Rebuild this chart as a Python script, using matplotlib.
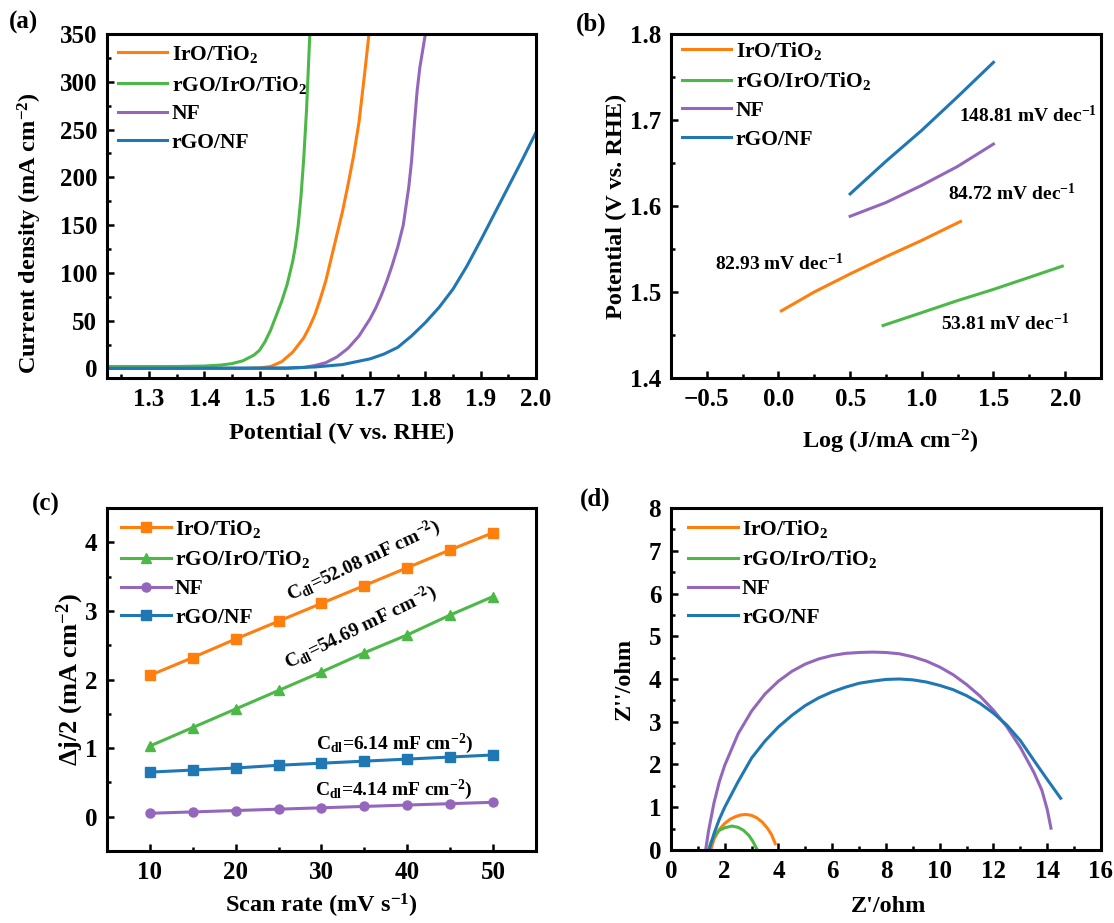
import numpy as np
import matplotlib
matplotlib.use('Agg')
import matplotlib.pyplot as plt
from matplotlib.ticker import MultipleLocator

plt.rcParams['font.family'] = 'Liberation Serif'
plt.rcParams['font.weight'] = 'bold'
plt.rcParams['axes.labelweight'] = 'bold'
plt.rcParams['mathtext.fontset'] = 'custom'
plt.rcParams['mathtext.rm'] = 'Liberation Serif:bold'
plt.rcParams['mathtext.it'] = 'Liberation Serif:bold:italic'
plt.rcParams['mathtext.bf'] = 'Liberation Serif:bold'
plt.rcParams['mathtext.default'] = 'rm'

names = [r'IrO/TiO$_2$', r'rGO/IrO/TiO$_2$', 'NF', 'rGO/NF']
colors = ['#ff7f0e', '#4cb848', '#9467bd', '#1f77b4']

# (a) LSV polarisation curves
lsv_v = [
    [1.22, 1.48, 1.50, 1.52, 1.54, 1.56, 1.58, 1.59, 1.60, 1.61, 1.62, 1.64, 1.65, 1.66, 1.67,
     1.68, 1.69, 1.698],
    [1.22, 1.35, 1.40, 1.43, 1.45, 1.47, 1.49, 1.50, 1.51, 1.52, 1.53, 1.54, 1.55, 1.56, 1.565,
     1.57, 1.575, 1.58, 1.585, 1.591],
    [1.22, 1.55, 1.58, 1.60, 1.62, 1.64, 1.66, 1.68, 1.70, 1.71, 1.72, 1.73, 1.74, 1.75, 1.76,
     1.77, 1.775, 1.78, 1.785, 1.79, 1.80],
    [1.22, 1.55, 1.60, 1.65, 1.70, 1.725, 1.75, 1.775, 1.80, 1.825, 1.85, 1.875, 1.90, 1.925,
     1.95, 1.975, 2.00],
]
lsv_j = [
    [0, 0, 0.5, 2, 7, 17, 32, 43, 56, 73, 92, 140, 164, 192, 222, 258, 308, 350],
    [2, 2, 2.5, 3.5, 5, 8, 14, 19, 28, 40, 55, 70, 88, 112, 128, 150, 180, 220, 270, 350],
    [0, 0, 1, 3, 6, 12, 21, 34, 52, 63, 76, 91, 108, 127, 150, 190, 217, 255, 290, 315, 350],
    [0, 0.5, 1.5, 4, 10, 15, 22, 34, 48, 64, 83, 107, 134, 162, 190, 218, 247],
]

# (b) Tafel plots
tafel_x = [
    [0.02, 0.25, 0.5, 0.75, 1.0, 1.27],
    [0.73, 1.0, 1.25, 1.5, 1.75, 1.98],
    [0.5, 0.75, 1.0, 1.25, 1.5],
    [0.5, 0.75, 1.0, 1.25, 1.5],
]
tafel_y = [
    [1.478, 1.500, 1.521, 1.541, 1.560, 1.582],
    [1.461, 1.476, 1.490, 1.503, 1.517, 1.530],
    [1.588, 1.604, 1.624, 1.646, 1.672],
    [1.614, 1.652, 1.688, 1.727, 1.767],
]
tafel_txt = ['82.93 mV dec$^{-1}$', '53.81 mV dec$^{-1}$', '84.72 mV dec$^{-1}$', '148.81 mV dec$^{-1}$']
tafel_txt_xy = [(-0.44, 1.533), (1.135, 1.463), (1.18, 1.615), (1.26, 1.705)]

# (c) double-layer capacitance
scan = [10, 15, 20, 25, 30, 35, 40, 45, 50]
dj = [
    [2.06, 2.32, 2.59, 2.85, 3.11, 3.37, 3.63, 3.89, 4.14],
    [1.03, 1.30, 1.57, 1.84, 2.11, 2.39, 2.65, 2.94, 3.21],
    [0.05, 0.07, 0.09, 0.11, 0.13, 0.15, 0.17, 0.19, 0.21],
    [0.65, 0.68, 0.71, 0.75, 0.78, 0.81, 0.84, 0.87, 0.90],
]
markers = ['s', '^', 'o', 's']
cdl_txt = [r'C$_{dl}$=52.08 mF cm$^{-2}$)', r'C$_{dl}$=54.69 mF cm$^{-2}$)',
           r'C$_{dl}$=4.14 mF cm$^{-2}$)', r'C$_{dl}$=6.14 mF cm$^{-2}$)']
cdl_xy = [(26.4, 3.15), (26.1, 2.15), (29.3, 0.31), (29.4, 0.99)]
cdl_rot = [25, 26, 0, 0]

# (d) Nyquist plots
zre = [
    [1.48, 1.6, 1.8, 2.0, 2.2, 2.4, 2.6, 2.8, 3.0, 3.2, 3.4, 3.6, 3.75, 3.88],
    [1.39, 1.5, 1.65, 1.8, 2.0, 2.27, 2.5, 2.7, 2.9, 3.05, 3.19],
    [1.29, 1.4, 1.6, 1.8, 2.0, 2.5, 3.0, 3.5, 4.0, 4.5, 5.0, 5.5, 6.0, 6.5, 7.0, 7.5, 8.0,
     8.5, 9.0, 9.5, 10.0, 10.5, 11.0, 11.5, 12.0, 12.5, 13.0, 13.5, 13.8, 14.0, 14.14],
    [1.42, 1.6, 1.8, 2.0, 2.5, 3.0, 3.5, 4.0, 4.5, 5.0, 5.5, 6.0, 6.5, 7.0, 7.5, 8.0, 8.5,
     9.0, 9.5, 10.0, 10.5, 11.0, 11.5, 12.0, 12.5, 13.0, 13.5, 14.0, 14.5],
]
zim = [
    [0.0, 0.25, 0.48, 0.62, 0.72, 0.78, 0.82, 0.83, 0.81, 0.75, 0.65, 0.5, 0.35, 0.15],
    [0.0, 0.2, 0.36, 0.46, 0.52, 0.56, 0.53, 0.46, 0.34, 0.2, 0.03],
    [0.0, 0.45, 1.1, 1.6, 1.98, 2.72, 3.25, 3.65, 3.95, 4.18, 4.35, 4.47, 4.55, 4.6, 4.62,
     4.63, 4.62, 4.59, 4.52, 4.42, 4.28, 4.1, 3.87, 3.6, 3.27, 2.88, 2.4, 1.82, 1.4, 0.95, 0.51],
    [0.0, 0.38, 0.72, 1.0, 1.6, 2.15, 2.55, 2.88, 3.15, 3.38, 3.56, 3.7, 3.81, 3.9, 3.95,
     3.99, 4.0, 3.98, 3.93, 3.85, 3.75, 3.61, 3.43, 3.2, 2.92, 2.56, 2.1, 1.65, 1.21],
]


def style(ax, xmaj, ymaj, xmin, ymin):
    for s in ax.spines.values():
        s.set_linewidth(2.2)
    ax.xaxis.set_major_locator(MultipleLocator(xmaj))
    ax.yaxis.set_major_locator(MultipleLocator(ymaj))
    ax.xaxis.set_minor_locator(MultipleLocator(xmin))
    ax.yaxis.set_minor_locator(MultipleLocator(ymin))
    ax.tick_params(which='both', direction='in', width=1.8, labelsize=18)
    ax.tick_params(which='major', length=5, pad=7)
    ax.tick_params(which='minor', length=3)


def labels(ax, xl, yl, xpos, ypos, yfs=17.5):
    ax.set_xlabel(xl, fontsize=17.5)
    ax.set_ylabel(yl, fontsize=yfs)
    ax.xaxis.set_label_coords(*xpos)
    ax.yaxis.set_label_coords(*ypos)
    ax.xaxis.label.set_va('center')
    ax.yaxis.label.set_va('center')


fig = plt.figure(figsize=(11.14, 9.23), dpi=100)
ax_a = fig.add_axes([0.0960, 0.5905, 0.3851, 0.3727])
ax_b = fig.add_axes([0.6023, 0.5905, 0.3860, 0.3727])
ax_c = fig.add_axes([0.0960, 0.0780, 0.3851, 0.3716])
ax_d = fig.add_axes([0.6023, 0.0791, 0.3860, 0.3705])

leg_kw = dict(frameon=False, loc='upper left', fontsize=15.5, handlelength=2.3,
              handletextpad=0.2, labelspacing=0.4)

# (a)
for i in range(4):
    ax_a.plot(lsv_v[i], lsv_j[i], color=colors[i], lw=2.2, label=names[i])
ax_a.set_xlim(1.224, 2.0)
ax_a.set_ylim(-10, 350)
style(ax_a, 0.1, 50, 0.05, 25)
labels(ax_a, 'Potential (V vs. RHE)', 'Current density (mA cm$^{-2}$)',
       (0.548, -0.16), (-0.179, 0.42))
ax_a.legend(bbox_to_anchor=(-0.02, 1.03), **leg_kw)

# (b)
for i in range(4):
    ax_b.plot(tafel_x[i], tafel_y[i], color=colors[i], lw=2.2, label=names[i])
for t, (x, y) in zip(tafel_txt, tafel_txt_xy):
    ax_b.text(x, y, t, fontsize=14, ha='left', va='center')
ax_b.set_xlim(-0.75, 2.25)
ax_b.set_ylim(1.4, 1.8)
style(ax_b, 0.5, 0.1, 0.25, 0.05)
labels(ax_b, 'Log (J/mA cm$^{-2}$)', 'Potential (V vs. RHE)',
       (0.509, -0.187), (-0.126, 0.5))
ax_b.legend(bbox_to_anchor=(-0.02, 1.04), **leg_kw)

# (c)
for i in range(4):
    ax_c.plot(scan, dj[i], color=colors[i], lw=2.2, marker=markers[i], ms=6.5, label=names[i])
for t, (x, y), r in zip(cdl_txt, cdl_xy, cdl_rot):
    ax_c.text(x, y, t, fontsize=14, rotation=r, rotation_mode='anchor', ha='left', va='baseline')
ax_c.set_xlim(5, 55)
ax_c.set_ylim(-0.5, 4.5)
style(ax_c, 10, 1, 5, 0.5)
labels(ax_c, 'Scan rate (mV s$^{-1}$)', 'Δj/2 (mA cm$^{-2}$)',
       (0.50, -0.16), (-0.086, 0.5), yfs=19)
ax_c.legend(bbox_to_anchor=(-0.012, 1.028), **leg_kw)

# (d)
for i in range(4):
    ax_d.plot(zre[i], zim[i], color=colors[i], lw=2.2, label=names[i])
ax_d.set_xlim(0, 16)
ax_d.set_ylim(0, 8)
style(ax_d, 2, 1, 1, 0.5)
labels(ax_d, "Z'/ohm", "Z''/ohm", (0.507, -0.165), (-0.109, 0.5))
ax_d.legend(bbox_to_anchor=(-0.005, 1.028), **leg_kw)

for lab, x, y in [('(a)', 9, 11), ('(b)', 576, 13), ('(c)', 32, 493), ('(d)', 580, 488)]:
    fig.text(x / 1114, 1 - y / 923, lab, fontsize=18, ha='left', va='top')

fig.savefig('out.png', dpi=100)
